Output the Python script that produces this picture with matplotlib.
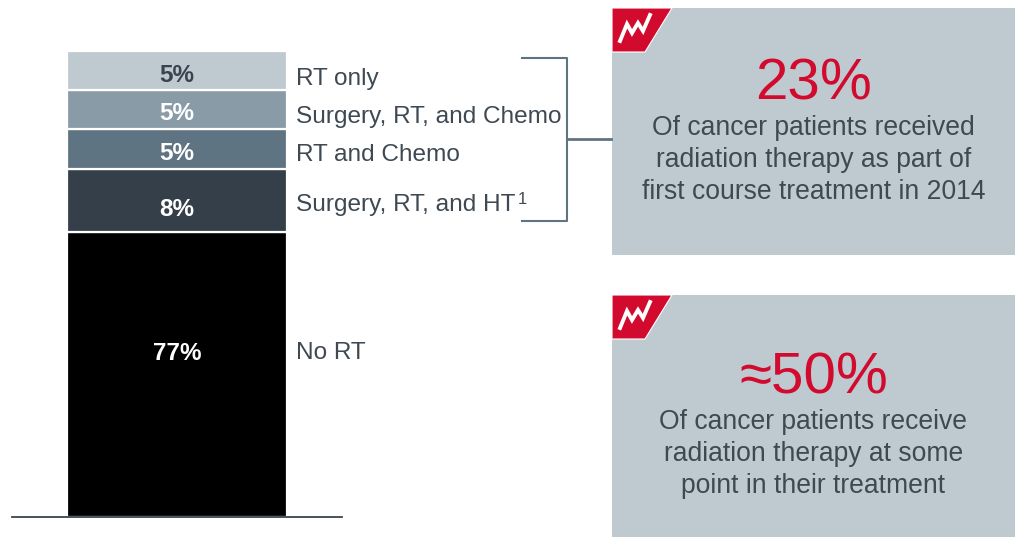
import matplotlib
matplotlib.use("Agg")
import matplotlib.pyplot as plt
from matplotlib.patches import Polygon, Rectangle

plt.rcParams['font.family'] = ['Liberation Sans', 'DejaVu Sans']

# segments bottom to top, heights as drawn (the source is not to scale)
categories = ['No RT', 'Surgery, RT, and HT', 'RT and Chemo', 'Surgery, RT, and Chemo', 'RT only']
heights = [61.1, 13.6, 8.5, 8.4, 8.4]
labels = ['77%', '8%', '5%', '5%', '5%']
colors = ['#000000', '#353F49', '#5F7482', '#8A9BA8', '#BFCAD0']
label_colors = ['white', 'white', 'white', 'white', '#3A444E']

W, H = 1019, 537
GREY = '#BFCAD0'
RED = '#D20A2E'
TEXT = '#3F4952'
LINE = '#5F7482'

fig = plt.figure(figsize=(W / 100, H / 100), dpi=100)

# page overlay in pixels, for callouts and bracket
page = fig.add_axes([0, 0, 1, 1])
page.set_xlim(0, W)
page.set_ylim(H, 0)
page.axis('off')
page.set_zorder(2)

# stacked bar
ax = fig.add_axes([68 / W, 1 - 516 / H, 218 / W, 464 / H])
ax.set_xlim(0.005, 0.995)
ax.set_ylim(0.2, 99.8)
ax.axis('off')
ax.set_zorder(1)

bottom = 0
for cat, h, c in zip(categories, heights, colors):
    ax.bar(0.5, h, width=1, bottom=bottom, color=c, edgecolor='white', linewidth=1.6)
    bottom += h

# value labels sit off centre in the two big segments, so placed on the page
labels_y = [353, 209, 154, 114, 75]
for lab, lc, y in zip(labels, label_colors, labels_y):
    page.text(177, y, lab, ha='center', va='center', color=lc, fontsize=17.5, fontweight='bold')

# category names
names_y = [353, 205, 155, 117, 79]
for cat, y in zip(categories, names_y):
    page.text(296, y, cat, ha='left', va='center', color=TEXT, fontsize=17.6)
page.text(518, 199, '1', ha='left', va='center', color=TEXT, fontsize=12)

# baseline
page.plot([12, 342], [517, 517], color='#3A444E', lw=1.3)

# bracket
page.plot([522, 567, 567, 522], [58, 58, 221, 221], color=LINE, lw=1.5)
page.plot([567, 611], [139, 139], color=LINE, lw=2)


def callout(top, bottom_y, big, big_y, lines, lines_y):
    page.add_patch(Rectangle((612, top), 403, bottom_y - top, color=GREY, lw=0))
    page.add_patch(Polygon([(612, top), (672, top), (645, top + 44), (612, top + 44)],
                           closed=True, facecolor=RED, edgecolor='white', lw=0.8))
    zig = [(620, 41), (627, 24), (632, 33), (638, 23), (643, 31), (650, 15)]
    page.plot([x for x, y in zig], [y + top - 8 for x, y in zig], color='white', lw=2.8,
              solid_joinstyle='miter')
    page.text(813.5, big_y, big, ha='center', va='center', color=RED, fontsize=42)
    for line, y in zip(lines, lines_y):
        page.text(813.5, y, line, ha='center', va='center', color=TEXT, fontsize=19.1)


callout(8, 255, '23%', 84,
        ['Of cancer patients received', 'radiation therapy as part of', 'first course treatment in 2014'],
        [128, 160, 192])
callout(295, 537, '\u224850%', 378,
        ['Of cancer patients receive', 'radiation therapy at some', 'point in their treatment'],
        [422, 454, 486])

fig.savefig('out.png', dpi=100)
